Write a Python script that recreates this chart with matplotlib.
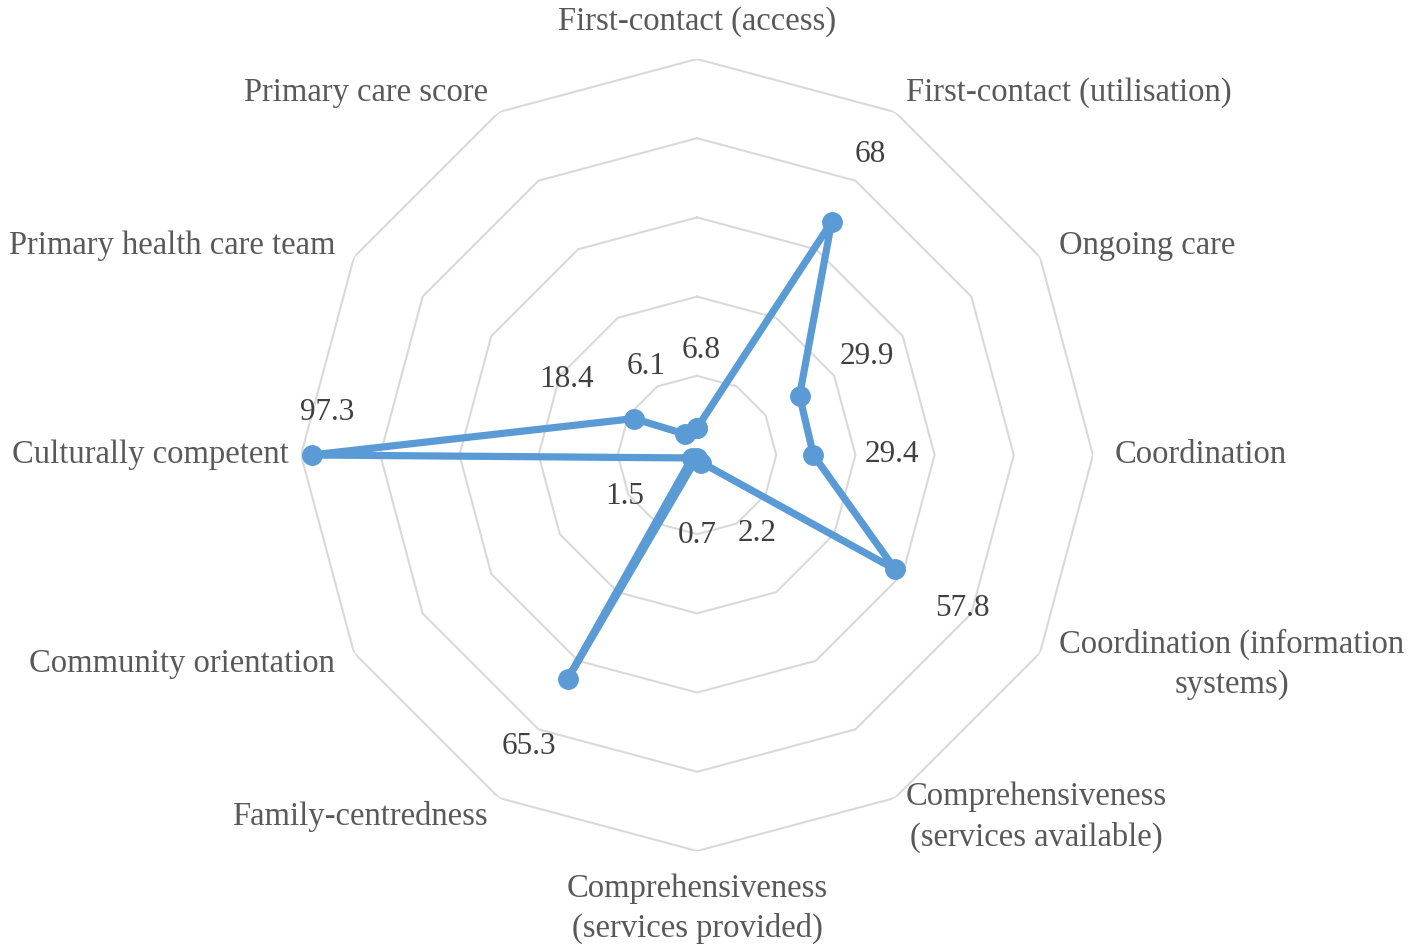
import numpy as np
import matplotlib
matplotlib.use('agg')
import matplotlib.pyplot as plt

categories = [
    "First-contact (access)",
    "First-contact (utilisation)",
    "Ongoing care",
    "Coordination",
    "Coordination (information\nsystems)",
    "Comprehensiveness\n(services available)",
    "Comprehensiveness\n(services provided)",
    "Family-centredness",
    "Community orientation",
    "Culturally competent",
    "Primary health care team",
    "Primary care score",
]
values = [6.8, 68, 29.9, 29.4, 57.8, 2.2, 0.7, 65.3, 1.5, 97.3, 18.4, 6.1]
value_labels = ["6.8", "68", "29.9", "29.4", "57.8", "2.2", "0.7", "65.3", "1.5", "97.3", "18.4", "6.1"]
ring_levels = [20, 40, 60, 80, 100]

plt.rcParams['font.family'] = ['Liberation Serif', 'DejaVu Serif']

line_col = '#5B9BD5'
grid_col = '#D9D9D9'

fig = plt.figure(figsize=(14.24, 9.48), dpi=100)
W, H = 1424, 948
cx, cy, R = 697, 455, 396
ax = fig.add_axes([(cx - R) / W, (H - cy - R) / H, 2 * R / W, 2 * R / H], projection='polar')
ax.set_theta_zero_location('N')
ax.set_theta_direction(-1)
ax.set_ylim(0, 100)
ax.grid(False)
ax.spines['polar'].set_visible(False)
ax.set_xticks([])
ax.set_yticks([])
ax.patch.set_alpha(0)

n = len(categories)
angles = np.arange(n) * 2 * np.pi / n
closed = np.append(angles, angles[0])

# polygon rings
for lvl in ring_levels:
    ax.plot(closed, [lvl] * (n + 1), color=grid_col, lw=1.5, zorder=1)

# data series
ax.plot(closed, values + [values[0]], color=line_col, lw=5.2, solid_joinstyle='round',
        solid_capstyle='round', marker='o', markersize=14, zorder=3, clip_on=False)

# category labels
for i, (a, lab) in enumerate(zip(angles, categories)):
    s, c = np.sin(a), np.cos(a)
    if s > 0.1:
        ha = 'left'
    elif s < -0.1:
        ha = 'right'
    else:
        ha = 'center'
    if abs(s) < 0.1:
        va = 'bottom' if c > 0 else 'top'
    else:
        va = 'center'
    pad = 12 if i == 9 else 22
    ax.annotate(lab, xy=(a, 100), xytext=(pad * s, pad * c), textcoords='offset pixels',
                ha=ha, va=va, multialignment='center', linespacing=1.4,
                fontsize=23.5, color='#595959', annotation_clip=False)

# value labels, pushed out radially; a couple are nudged like the original
nudge = {9: (15, 42), 0: (4, 78), 5: (56, -71)}
for i, (a, v, lab) in enumerate(zip(angles, values, value_labels)):
    off = nudge.get(i, (78 * np.sin(a), 78 * np.cos(a)))
    ax.annotate(lab, xy=(a, v), xytext=off, textcoords='offset pixels',
                ha='center', va='center', fontsize=22.5, color='#404040',
                annotation_clip=False)

fig.savefig('out.png', dpi=100)
